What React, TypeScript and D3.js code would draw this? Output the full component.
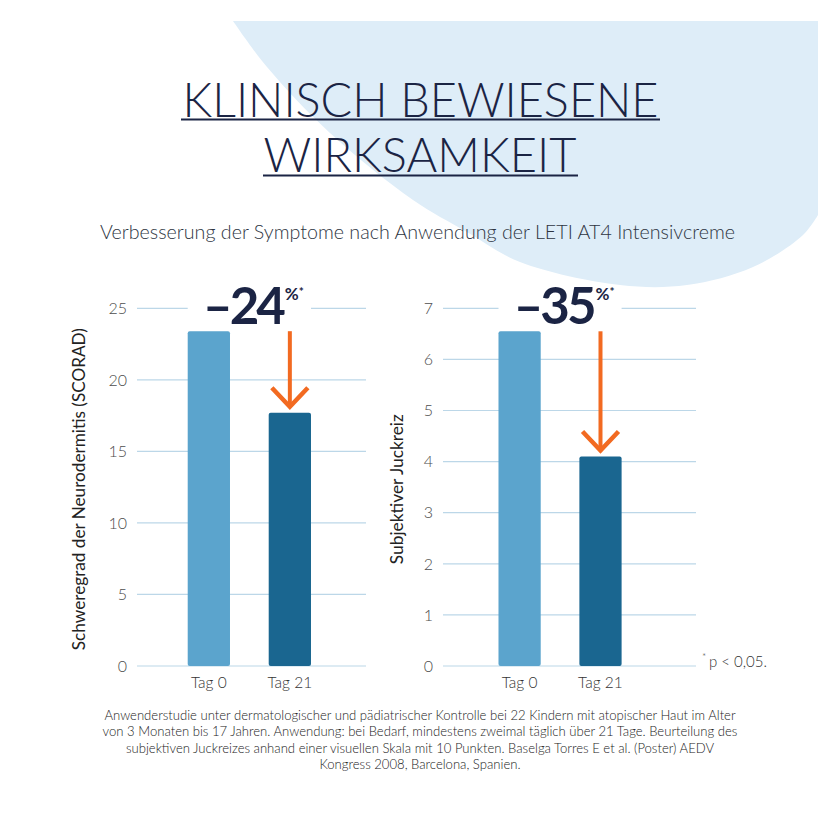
import React from "react";
import * as d3 from "d3";

// Study results: SCORAD severity and subjective itch, before and after 21 days
const categories = ["Tag 0", "Tag 21"];
const scoradValues = [23.4, 17.7];
const itchValues = [6.55, 4.1];
const scoradTicks = [0, 5, 10, 15, 20, 25];
const itchTicks = [0, 1, 2, 3, 4, 5, 6, 7];
const changeLabels = ["–24", "–35"];
const axisTitles = ["Schweregrad der Neurodermitis (SCORAD)", "Subjektiver Juckreiz"];
const titleLines = ["KLINISCH BEWIESENE", "WIRKSAMKEIT"];
const subtitle = "Verbesserung der Symptome nach Anwendung der LETI AT4 Intensivcreme";
const footnoteLines = [
  "Anwenderstudie unter dermatologischer und pädiatrischer Kontrolle bei 22 Kindern mit atopischer Haut im Alter",
  "von 3 Monaten bis 17 Jahren. Anwendung: bei Bedarf, mindestens zweimal täglich über 21 Tage. Beurteilung des",
  "subjektiven Juckreizes anhand einer visuellen Skala mit 10 Punkten. Baselga Torres E et al. (Poster) AEDV",
  "Kongress 2008, Barcelona, Spanien.",
];

const FONT = "Lato, 'Open Sans', sans-serif";
const NAVY = "#1b2444";
const ORANGE = "#f26a21";
const BAR_COLORS = ["#5ba4cd", "#1a6690"];
const GRID = "#bcd7e8";

// Decorative background blob outline
const blobPoints: [number, number][] = [
  [233, 21], [267, 67], [330, 133], [413, 200], [467, 232], [520, 262],
  [620, 285], [687, 285], [753, 267], [803, 235], [818, 215],
];

type PanelProps = {
  values: number[];
  ticks: number[];
  maxY: number;
  gridX: [number, number];
  bandRange: [number, number];
  paddingOuter: number;
  tickX: number;
  titleX: number;
  titleLen: number;
  axisTitle: string;
  change: string;
};

const Y0 = 666;
const YTOP = 308.3;

function Panel(p: PanelProps) {
  const y = d3.scaleLinear().domain([0, p.maxY]).range([Y0, YTOP]);
  const x = d3
    .scaleBand<string>()
    .domain(categories)
    .range(p.bandRange)
    .paddingInner(0.478)
    .paddingOuter(p.paddingOuter);
  const bw = x.bandwidth();
  const x0 = x(categories[0])!;
  const x1 = x(categories[1])!;
  const cx1 = x1 + bw / 2;
  const topTick = p.ticks[p.ticks.length - 1];
  const arrowTop = y(p.values[0]);
  const arrowTip = y(p.values[1]) - 5;
  const labelEnd = x1 + bw / 2 - 7;

  return (
    <g>
      {p.ticks.map((t) =>
        t === topTick ? (
          <g key={t}>
            <line x1={p.gridX[0]} x2={x0} y1={y(t)} y2={y(t)} stroke={GRID} strokeWidth={1.2} />
            <line x1={x1 + bw} x2={p.gridX[1]} y1={y(t)} y2={y(t)} stroke={GRID} strokeWidth={1.2} />
          </g>
        ) : (
          <line key={t} x1={p.gridX[0]} x2={p.gridX[1]} y1={y(t)} y2={y(t)} stroke={GRID} strokeWidth={1.2} />
        )
      )}
      {p.ticks.map((t) => (
        <text key={"l" + t} x={p.tickX} y={y(t)} dy="0.36em" textAnchor="end" fontSize={16} fontWeight={300} fill="#4d4d4d" fontFamily={FONT}>
          {t}
        </text>
      ))}
      {p.values.map((v, i) => (
        <rect key={i} x={x(categories[i])} y={y(v)} width={bw} height={Y0 - y(v)} rx={2} fill={BAR_COLORS[i]} />
      ))}
      {categories.map((c) => (
        <text key={c} x={x(c)! + bw / 2} y={688} textAnchor="middle" fontSize={15.5} fontWeight={300} fill="#333" fontFamily={FONT}>
          {c}
        </text>
      ))}
      <text
        transform={`translate(${p.titleX},${(Y0 + YTOP) / 2 + 2}) rotate(-90)`}
        textAnchor="middle"
        fontSize={16.5}
        fill="#222"
        fontFamily={FONT}
        textLength={p.titleLen}
        lengthAdjust="spacingAndGlyphs"
      >
        {p.axisTitle}
      </text>
      {/* change arrow */}
      <line x1={cx1} x2={cx1} y1={arrowTop} y2={arrowTip - 1} stroke={ORANGE} strokeWidth={4} />
      <path
        d={`M${cx1 - 18},${arrowTip - 20} L${cx1},${arrowTip - 1} L${cx1 + 18},${arrowTip - 20}`}
        fill="none"
        stroke={ORANGE}
        strokeWidth={4.5}
      />
      {/* change label */}
      <text x={labelEnd} y={324} textAnchor="end" fontSize={51} fontWeight={700} fill={NAVY} fontFamily={FONT} letterSpacing={-3}>
        {p.change}
      </text>
      <text x={labelEnd + 2} y={300} fontSize={17} fontWeight={700} fill={NAVY} fontFamily={FONT}>
        %
      </text>
      <text x={labelEnd + 16} y={296} fontSize={12} fontWeight={700} fill={NAVY} fontFamily={FONT}>
        *
      </text>
    </g>
  );
}

export default function App() {
  const blobLine = d3.line().curve(d3.curveCatmullRom.alpha(0.5));
  const blobPath = blobLine(blobPoints) + " L818,21 Z";

  return (
    <svg
      width={840}
      height={840}
      viewBox="0 0 840 840"
      style={{ position: "absolute", left: 0, top: 0, background: "#fff" }}
    >
      <rect width={840} height={840} fill="#fff" />
      <path d={blobPath} fill="#deedf8" />

      {/* title */}
      <text x={420.5} y={117} textAnchor="middle" fontSize={48} fontWeight={300} fill={NAVY} fontFamily={FONT} textLength={476} lengthAdjust="spacingAndGlyphs">
        {titleLines[0]}
      </text>
      <line x1={181} x2={660} y1={119.5} y2={119.5} stroke={NAVY} strokeWidth={2} />
      <text x={420} y={172} textAnchor="middle" fontSize={48} fontWeight={300} fill={NAVY} fontFamily={FONT} textLength={313} lengthAdjust="spacingAndGlyphs">
        {titleLines[1]}
      </text>
      <line x1={263} x2={578} y1={175.5} y2={175.5} stroke={NAVY} strokeWidth={2} />

      <text x={417.5} y={239} textAnchor="middle" fontSize={19} fontWeight={300} fill="#2e3542" fontFamily={FONT} textLength={635} lengthAdjust="spacingAndGlyphs">
        {subtitle}
      </text>

      <Panel
        values={scoradValues}
        ticks={scoradTicks}
        maxY={25}
        gridX={[137, 366]}
        bandRange={[137, 361.7]}
        paddingOuter={0.626}
        tickX={127}
        titleX={85}
        titleLen={322}
        axisTitle={axisTitles[0]}
        change={changeLabels[0]}
      />
      <Panel
        values={itchValues}
        ticks={itchTicks}
        maxY={7}
        gridX={[443, 696]}
        bandRange={[443, 677.1]}
        paddingOuter={0.686}
        tickX={433}
        titleX={403}
        titleLen={150}
        axisTitle={axisTitles[1]}
        change={changeLabels[1]}
      />

      <text x={702} y={660} fontSize={10} fontWeight={300} fill="#333" fontFamily={FONT}>*</text>
      <text x={709} y={667} fontSize={15} fontWeight={300} fill="#333" fontFamily={FONT}>p &lt; 0,05.</text>

      {footnoteLines.map((l, i) => (
        <text key={i} x={420} y={720 + i * 16.3} textAnchor="middle" fontSize={13.1} fontWeight={300} fill="#222" fontFamily={FONT}>
          {l}
        </text>
      ))}
    </svg>
  );
}
